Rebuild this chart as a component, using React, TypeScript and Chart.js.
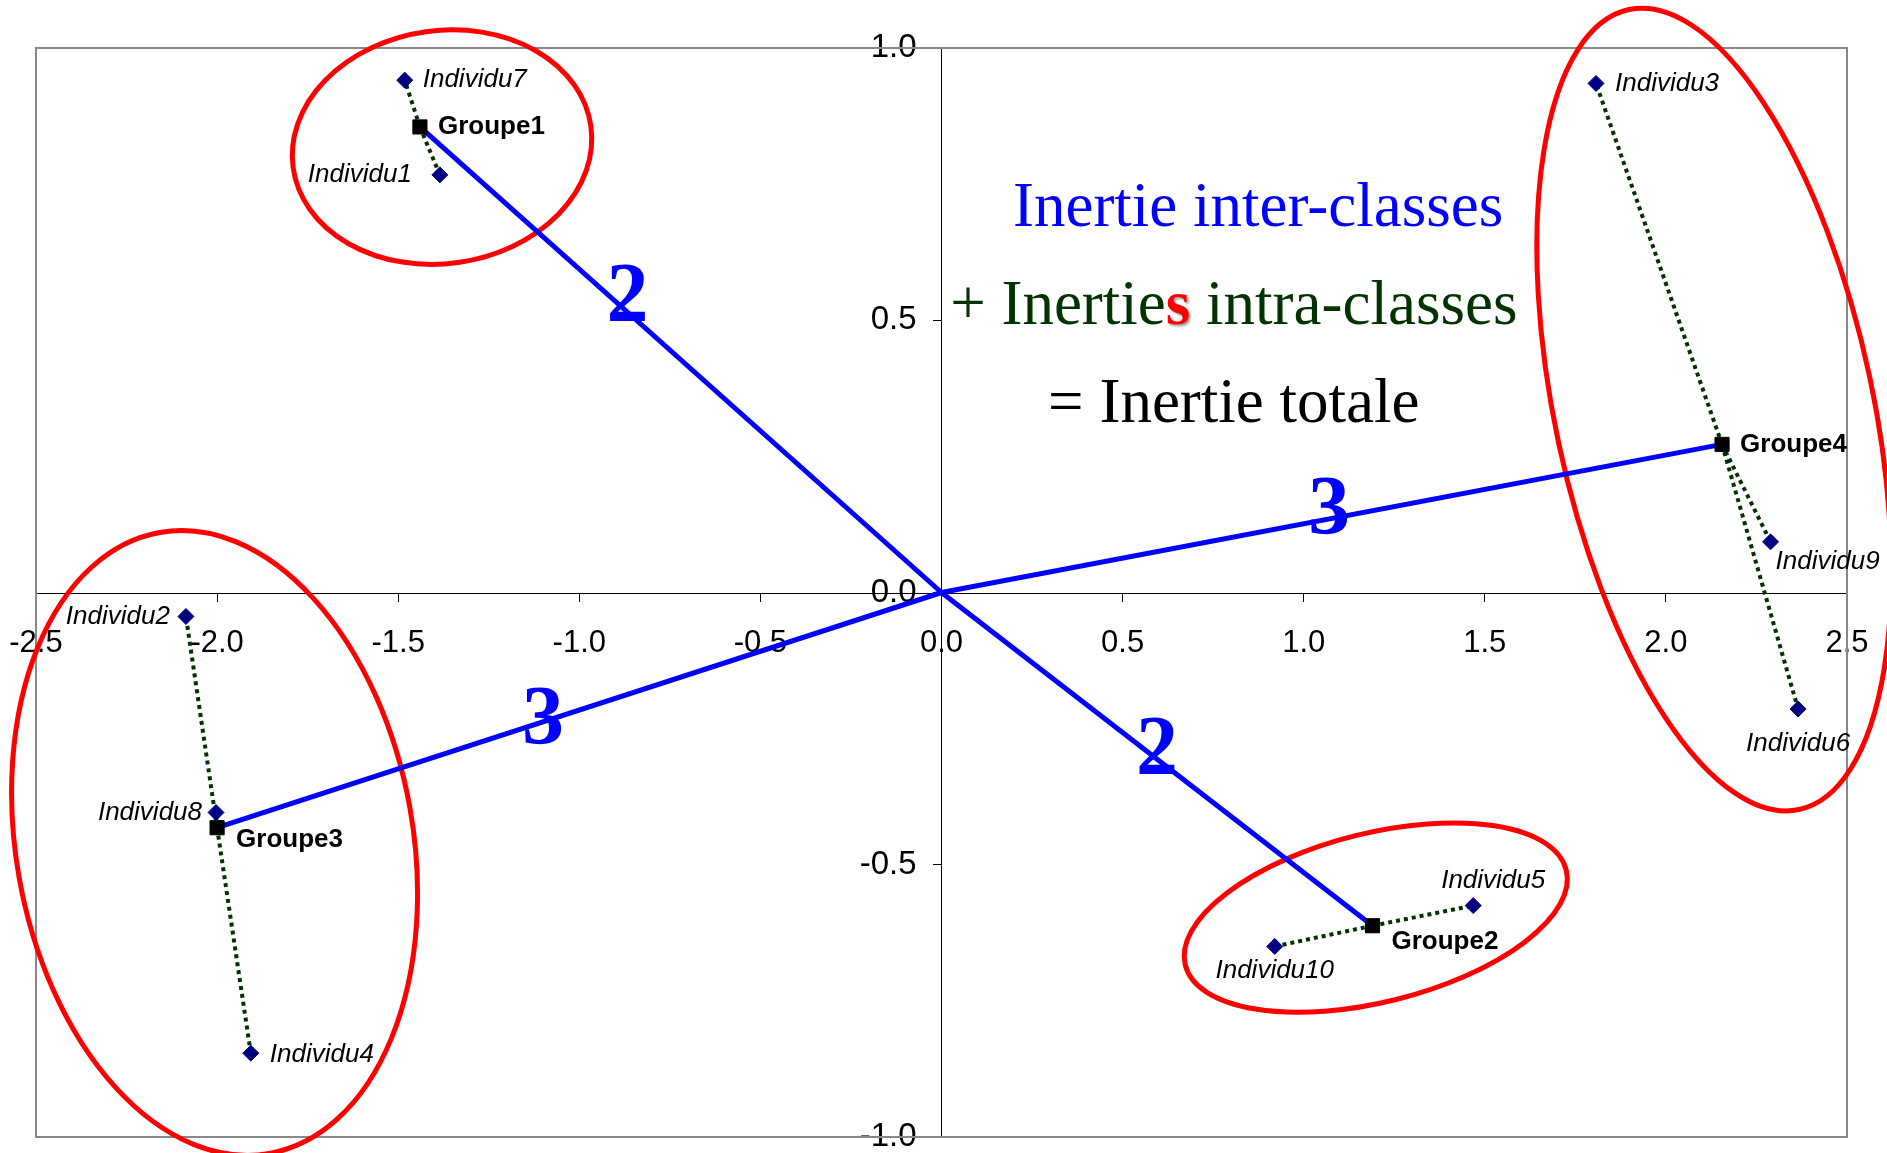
import React, { useEffect, useRef } from 'react';
import { Chart, registerables } from 'chart.js';

Chart.register(...registerables);

// ---- Data ----
const xTicks = [-2.5, -2.0, -1.5, -1.0, -0.5, 0.0, 0.5, 1.0, 1.5, 2.0, 2.5];
const yTicks = [-1.0, -0.5, 0.0, 0.5, 1.0];

const individuNames = ['Individu1', 'Individu2', 'Individu3', 'Individu4', 'Individu5', 'Individu6', 'Individu7', 'Individu8', 'Individu9', 'Individu10'];
const individuX = [-1.385, -2.086, 1.807, -1.907, 1.468, 2.365, -1.482, -2.003, 2.289, 0.920];
const individuY = [0.767, -0.044, 0.935, -0.846, -0.575, -0.214, 0.941, -0.404, 0.093, -0.650];
const individuGroup = [0, 2, 3, 2, 1, 3, 0, 2, 3, 1];

const groupNames = ['Groupe1', 'Groupe2', 'Groupe3', 'Groupe4'];
const groupX = [-1.44, 1.19, -2.0, 2.155];
const groupY = [0.855, -0.612, -0.432, 0.272];

const interLabels = ['2', '2', '3', '3'];
const interLabelX = [-0.867, 0.595, -1.10, 1.070];
const interLabelY = [0.539, -0.294, -0.239, 0.148];

const ellipseCX = [-1.379, 1.199, -2.007, 2.133];
const ellipseCY = [0.818, -0.597, -0.460, 0.336];
const ellipseRX = [0.415, 0.542, 0.548, 0.439];
const ellipseRY = [0.214, 0.155, 0.579, 0.751];
const ellipseRot = [-8, -14, -10, -12];

const textLine1 = 'Inertie inter-classes';
const textLine2a = '+ Inertie';
const textLine2b = 's';
const textLine2c = ' intra-classes';
const textLine3 = '= Inertie totale';
const textX = [0.874, 0.807, 0.807];
const textY = [0.674, 0.493, 0.314];

// ---- Label layout (styles) ----
const indLabelDx = [-28, -16, 19, 19, 20, 0, 18, -14, 5, 0];
const indLabelDy = [0, 0, 0, 2, -25, 35, 0, 0, 20, 24];
const indLabelAlign: CanvasTextAlign[] = ['right', 'right', 'left', 'left', 'center', 'center', 'left', 'right', 'left', 'center'];
const groupLabelDx = [18, 19, 19, 18];
const groupLabelDy = [0, 16, 12, 0];

const framePlugin = {
  id: 'frameAndEllipses',
  beforeDatasetsDraw(chart: any) {
    const { ctx, chartArea, scales } = chart;
    const xs = scales.x;
    const ys = scales.y;
    ctx.save();
    ctx.strokeStyle = '#888888';
    ctx.lineWidth = 2;
    ctx.strokeRect(chartArea.left, chartArea.top, chartArea.right - chartArea.left, chartArea.bottom - chartArea.top);
    const pxX = xs.getPixelForValue(1) - xs.getPixelForValue(0);
    const pxY = ys.getPixelForValue(0) - ys.getPixelForValue(1);
    ctx.strokeStyle = '#FF0000';
    ctx.lineWidth = 5;
    for (let i = 0; i < ellipseCX.length; i++) {
      ctx.beginPath();
      ctx.ellipse(
        xs.getPixelForValue(ellipseCX[i]),
        ys.getPixelForValue(ellipseCY[i]),
        ellipseRX[i] * pxX,
        ellipseRY[i] * pxY,
        (ellipseRot[i] * Math.PI) / 180,
        0,
        Math.PI * 2
      );
      ctx.stroke();
    }
    ctx.restore();
  },
  afterDatasetsDraw(chart: any) {
    const { ctx, scales } = chart;
    const xs = scales.x;
    const ys = scales.y;
    ctx.save();
    // point labels
    ctx.textBaseline = 'middle';
    ctx.fillStyle = '#000';
    ctx.font = 'italic 26px "Liberation Sans", Arial, sans-serif';
    for (let i = 0; i < individuNames.length; i++) {
      ctx.textAlign = indLabelAlign[i];
      ctx.fillText(
        individuNames[i],
        xs.getPixelForValue(individuX[i]) + indLabelDx[i],
        ys.getPixelForValue(individuY[i]) + indLabelDy[i]
      );
    }
    ctx.font = 'bold 26px "Liberation Sans", Arial, sans-serif';
    ctx.textAlign = 'left';
    for (let i = 0; i < groupNames.length; i++) {
      ctx.fillText(
        groupNames[i],
        xs.getPixelForValue(groupX[i]) + groupLabelDx[i],
        ys.getPixelForValue(groupY[i]) + groupLabelDy[i]
      );
    }
    // inertia weights
    ctx.font = 'bold 84px "Liberation Serif", "Times New Roman", serif';
    ctx.fillStyle = '#0000FF';
    ctx.textAlign = 'center';
    for (let i = 0; i < interLabels.length; i++) {
      ctx.fillText(interLabels[i], xs.getPixelForValue(interLabelX[i]), ys.getPixelForValue(interLabelY[i]));
    }
    // text block
    ctx.textBaseline = 'alphabetic';
    const serif = '63px "Liberation Serif", "Times New Roman", serif';
    const serifBold = 'bold 63px "Liberation Serif", "Times New Roman", serif';
    ctx.font = serif;
    ctx.textAlign = 'center';
    ctx.fillStyle = '#0000FF';
    ctx.fillText(textLine1, xs.getPixelForValue(textX[0]), ys.getPixelForValue(textY[0]));

    ctx.textAlign = 'left';
    ctx.font = serif;
    const wa = ctx.measureText(textLine2a).width;
    const wc = ctx.measureText(textLine2c).width;
    ctx.font = serifBold;
    const wb = ctx.measureText(textLine2b).width;
    const total = wa + wb + wc;
    const x0 = xs.getPixelForValue(textX[1]) - total / 2;
    const y2 = ys.getPixelForValue(textY[1]);
    ctx.font = serif;
    ctx.fillStyle = '#003300';
    ctx.fillText(textLine2a, x0, y2);
    ctx.save();
    ctx.font = serifBold;
    ctx.fillStyle = '#FF0000';
    ctx.shadowColor = 'rgba(0,0,0,0.35)';
    ctx.shadowOffsetX = 2;
    ctx.shadowOffsetY = 2;
    ctx.shadowBlur = 2;
    ctx.fillText(textLine2b, x0 + wa, y2);
    ctx.restore();
    ctx.font = serif;
    ctx.fillStyle = '#003300';
    ctx.fillText(textLine2c, x0 + wa + wb, y2);

    ctx.textAlign = 'center';
    ctx.fillStyle = '#000000';
    ctx.fillText(textLine3, xs.getPixelForValue(textX[2]), ys.getPixelForValue(textY[2]));
    ctx.restore();
  },
};

const zeroPadding = (axis: any) => {
  axis.paddingLeft = 0;
  axis.paddingRight = 0;
  axis.paddingTop = 0;
  axis.paddingBottom = 0;
};

export default function App() {
  const canvasRef = useRef<HTMLCanvasElement | null>(null);

  useEffect(() => {
    document.body.style.margin = '0';
    const canvas = canvasRef.current;
    if (!canvas) return;

    const pointsData = individuX.map((x, i) => ({ x, y: individuY[i] }));
    const groupData = groupX.map((x, i) => ({ x, y: groupY[i] }));

    const blueLines = groupX.map((gx, i) => ({
      label: 'inter' + i,
      data: [{ x: 0, y: 0 }, { x: gx, y: groupY[i] }],
      showLine: true,
      borderColor: '#0000FF',
      borderWidth: 5,
      pointRadius: 0,
      clip: false as any,
    }));

    const dottedLines = individuX.map((ix, i) => {
      const g = individuGroup[i];
      return {
        label: 'intra' + i,
        data: [{ x: groupX[g], y: groupY[g] }, { x: ix, y: individuY[i] }],
        showLine: true,
        borderColor: '#003300',
        borderWidth: 4,
        borderDash: [4, 4],
        pointRadius: 0,
        clip: false as any,
      };
    });

    const chart = new Chart(canvas, {
      type: 'scatter',
      data: {
        datasets: [
          {
            label: 'Individus',
            data: pointsData,
            pointStyle: 'rectRot',
            pointRadius: 8,
            backgroundColor: '#000080',
            borderColor: '#000080',
            borderWidth: 1,
            clip: false as any,
          },
          {
            label: 'Groupes',
            data: groupData,
            pointStyle: 'rect',
            pointRadius: 10,
            backgroundColor: '#000000',
            borderColor: '#000000',
            borderWidth: 1,
            clip: false as any,
          },
          ...blueLines,
          ...dottedLines,
        ] as any,
      },
      options: {
        responsive: false,
        animation: false,
        layout: { padding: { left: 36, right: 40, top: 48, bottom: 16 } },
        plugins: {
          legend: { display: false },
          tooltip: { enabled: false },
        },
        scales: {
          x: {
            type: 'linear',
            position: 'center',
            min: -2.5,
            max: 2.5,
            afterBuildTicks: (axis: any) => {
              axis.ticks = xTicks.map((v) => ({ value: v }));
            },
            afterFit: zeroPadding,
            ticks: {
              autoSkip: false,
              maxRotation: 0,
              padding: 24,
              color: '#000',
              font: { family: '"Liberation Sans", Arial, sans-serif', size: 31 },
              callback: (v: any) => Number(v).toFixed(1),
            },
            grid: {
              display: true,
              drawOnChartArea: false,
              drawTicks: true,
              tickLength: 8,
              color: '#000',
              lineWidth: 1,
            },
            border: { display: true, color: '#000', width: 1 },
          },
          y: {
            type: 'linear',
            position: 'center',
            min: -1,
            max: 1,
            afterBuildTicks: (axis: any) => {
              axis.ticks = yTicks.map((v) => ({ value: v }));
            },
            afterFit: zeroPadding,
            ticks: {
              autoSkip: false,
              padding: 17,
              color: '#000',
              font: { family: '"Liberation Sans", Arial, sans-serif', size: 33 },
              callback: (v: any) => Number(v).toFixed(1),
            },
            grid: {
              display: true,
              drawOnChartArea: false,
              drawTicks: true,
              tickLength: 8,
              color: '#000',
              lineWidth: 1,
            },
            border: { display: true, color: '#000', width: 1 },
          },
        },
      },
      plugins: [framePlugin],
    });

    return () => {
      chart.destroy();
    };
  }, []);

  return (
    <canvas
      ref={canvasRef}
      width={1887}
      height={1153}
      style={{ display: 'block', width: '1887px', height: '1153px' }}
    />
  );
}
